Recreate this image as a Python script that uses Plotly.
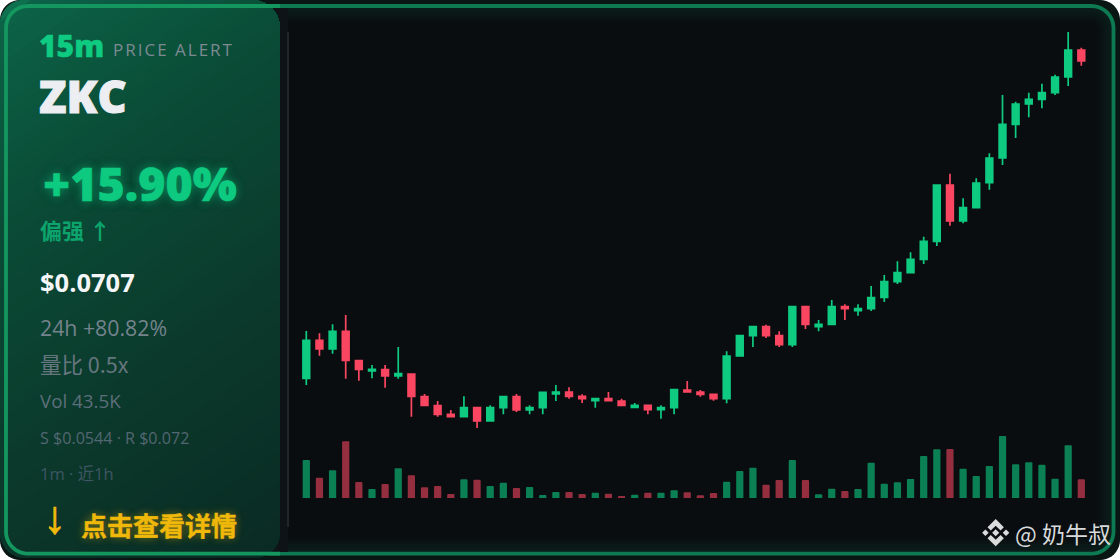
import math
import plotly.graph_objects as go

W, H = 1120, 560

# ---- data -----------------------------------------------------------------
candle_index = list(range(60))
opens = [0.03897,0.04277,0.0419,0.04367,0.04073,0.0397,0.03983,0.0392,0.0394,0.03713,0.03623,0.03537,0.03513,0.03603,0.0347,0.03603,0.03713,0.03580,0.03603,0.0374,0.0376,0.03717,0.03673,0.03693,0.0367,0.03607,0.03627,0.03583,0.03603,0.0378,0.0376,0.03737,0.03693,0.0412,0.04323,0.04413,0.04323,0.04233,0.04613,0.04413,0.04437,0.04613,0.04573,0.04593,0.04707,0.04863,0.04953,0.05087,0.05267,0.0583,0.0547,0.05603,0.05853,0.061,0.06437,0.0664,0.06687,0.06753,0.0691,0.0718]
closes = [0.04277,0.0419,0.04367,0.04077,0.03987,0.03987,0.0392,0.03943,0.03717,0.03627,0.03537,0.03513,0.03603,0.0347,0.03603,0.03713,0.0358,0.03603,0.03757,0.0376,0.03715,0.03693,0.03693,0.03673,0.03627,0.03627,0.03583,0.03603,0.03783,0.0376,0.03737,0.03693,0.0412,0.04323,0.04413,0.04323,0.04233,0.04613,0.04437,0.04437,0.04613,0.04593,0.04593,0.04703,0.04863,0.04953,0.05087,0.05267,0.0583,0.0547,0.05603,0.0585,0.061,0.06437,0.0664,0.06687,0.06753,0.0691,0.0718,0.0707]
highs = [0.0437,0.04347,0.04437,0.0453,0.04077,0.0403,0.0403,0.0421,0.0394,0.0374,0.0367,0.0358,0.03717,0.03603,0.03627,0.03717,0.0374,0.03627,0.0376,0.0383,0.03807,0.03737,0.03693,0.0376,0.03693,0.0365,0.03627,0.03627,0.03783,0.0387,0.0378,0.03737,0.04167,0.04323,0.04413,0.04433,0.04367,0.04613,0.04613,0.0448,0.0468,0.04637,0.04637,0.0482,0.0493,0.05067,0.05157,0.05313,0.0583,0.05943,0.05697,0.05897,0.06147,0.0673,0.06663,0.06753,0.06843,0.06933,0.0736,0.07203]
lows = [0.0383,0.04123,0.04143,0.03893,0.03873,0.03897,0.03803,0.03893,0.03513,0.03627,0.03513,0.03513,0.03513,0.034,0.0347,0.03537,0.0356,0.03537,0.03537,0.0367,0.03693,0.0365,0.03603,0.03673,0.03627,0.03603,0.03537,0.03493,0.03537,0.0376,0.03713,0.03673,0.03647,0.0412,0.0421,0.043,0.0421,0.0421,0.0439,0.04367,0.04437,0.0448,0.04523,0.0457,0.0466,0.0484,0.04953,0.0504,0.0522,0.05423,0.05447,0.05603,0.05783,0.0603,0.063,0.06507,0.06597,0.0673,0.0682,0.07023]
volumes_k = [88.5,47.3,64.5,132,37.3,21,32.6,69.2,52.9,24.9,28,9.3,43.6,42.6,28,35.6,23.3,25.6,7,14,14,9.3,12.3,10,4.7,7.7,12.3,12.3,17.9,13.3,6.3,11.7,38,62.9,70.6,31,41.9,88.5,41.9,8.6,21.7,16.3,21,82.2,33.3,36.6,44.3,97.9,113.5,114.2,68.3,51.3,74.6,144.5,78.5,83.2,77.6,45,122.8,43.5]

title_tf = "15m"
title_tag = "PRICE ALERT"
title_sym = "ZKC"
change_text = "+15.90%"
bias_text = "偏强 ↑"
price_text = "$0.0707"
day_text = "24h +80.82%"
ratio_text = "量比 0.5x"
vol_text = "Vol 43.5K"
levels_text = "S $0.0544 · R $0.072"
window_text = "1m · 近1h"
cta_arrow = "↓"
cta_text = "点击查看详情"
watermark_text = "@ 奶牛叔"

UP, DOWN = "#0ecb81", "#fb4661"
UP_VOL, DOWN_VOL = "#0c8055", "#952f3f"
LATIN = "'Open Sans', 'Noto Sans CJK SC', sans-serif"
CJK = "'Noto Sans CJK SC', 'Open Sans', sans-serif"

# ---- pixel helpers for the decoration --------------------------------------
def fx(x): return x / W
def fy(y): return 1 - y / H

def arc(cx, cy, r, a0, a1, n=10):
    return [(cx + r * math.cos(math.radians(a0 + (a1 - a0) * i / n)),
             cy + r * math.sin(math.radians(a0 + (a1 - a0) * i / n))) for i in range(n + 1)]

def rrect(x0, y0, x1, y1, r):
    tl, tr, br, bl = r if isinstance(r, tuple) else (r, r, r, r)
    return (arc(x0 + tl, y0 + tl, tl, 180, 270) + arc(x1 - tr, y0 + tr, tr, 270, 360) +
            arc(x1 - br, y1 - br, br, 0, 90) + arc(x0 + bl, y1 - bl, bl, 90, 180))

def clip(poly, nx, ny, d):
    out = []
    for i, p in enumerate(poly):
        q = poly[(i + 1) % len(poly)]
        dp, dq = nx * p[0] + ny * p[1] - d, nx * q[0] + ny * q[1] - d
        if dp >= 0:
            out.append(p)
        if dp * dq < 0:
            s = dp / (dp - dq)
            out.append((p[0] + s * (q[0] - p[0]), p[1] + s * (q[1] - p[1])))
    return out

def path(pts, close=True):
    s = "M" + " L".join(f"{fx(x):.5f},{fy(y):.5f}" for x, y in pts)
    return s + (" Z" if close else "")

def poly_shape(pts, fill=None, line=None, width=0, close=True, layer="below"):
    d = dict(type="path", xref="paper", yref="paper", path=path(pts, close), layer=layer)
    d["fillcolor"] = fill if fill else "rgba(0,0,0,0)"
    d["line"] = dict(color=line, width=width) if line else dict(width=0)
    return d

def hex_rgb(h): return tuple(int(h[i:i + 2], 16) for i in (1, 3, 5))
def mix(stops, t):
    for (t0, c0), (t1, c1) in zip(stops, stops[1:]):
        if t <= t1:
            s = (t - t0) / (t1 - t0)
            a, b = hex_rgb(c0), hex_rgb(c1)
            return "rgb(%d,%d,%d)" % tuple(round(a[i] + (b[i] - a[i]) * s) for i in range(3))
    return stops[-1][1]

shapes = []
# card with an inset green tint
shapes.append(poly_shape(rrect(0, 0, W, H, 20), fill="#0a1614"))
for i in range(0, 9):
    inset = 6 + i * 2
    shapes.append(poly_shape(rrect(inset, inset, W - inset, H - inset, max(22 - i * 2 + 2, 6)),
                             fill=mix([(0, "#0a1f1b"), (0.5, "#0a1716"), (1, "#0a0d10")], i / 8)))
# outer border
shapes.append(poly_shape(rrect(6, 6, 1113.5, 553.7, 22), line="#0e7a52", width=3.8))
# soft edge beside the panel
shapes.append(poly_shape([(270, 8), (288, 8), (288, 552), (270, 552)], fill="#0d1316"))
# separator
shapes.append(dict(type="line", xref="paper", yref="paper", x0=fx(288), x1=fx(288), y0=fy(32), y1=fy(527),
                   line=dict(color="#22262c", width=2), layer="below"))
# panel gradient, painted in overlapping opaque bands
panel = rrect(0, 0, 280, 558, (24, 28, 26, 26))
stops = [(0, "#0f7d55"), (0.03, "#0c6146"), (0.3, "#0a4b36"), (0.62, "#0b3a2c"), (1, "#0a2a23")]
nx, ny = 0.574, 0.819
span = nx * 280 + ny * 558
bands = 70
for k in range(bands):
    t = k / bands
    pts = clip(panel, nx, ny, t * span)
    if len(pts) > 2:
        shapes.append(poly_shape(pts, fill=mix(stops, t)))
# bright border over the panel
shapes.append(poly_shape([(280, 6)] + arc(28, 28, 22, 270, 180) + arc(28, 531.7, 22, 180, 90) + [(280, 553.7)],
                          line="#14965f", width=3.8, close=False))
# exchange mark of the watermark
lx, ly, lr = 995.7, 532.7, 13.6
def logo(pts): return [(lx + a * lr, ly + b * lr) for a, b in pts]
top = [(0, -1), (0.6, -0.4), (0.36, -0.16), (0, -0.52), (-0.36, -0.16), (-0.6, -0.4)]
bot = [(a, -b) for a, b in top]
def diamond(cx, r): return [(cx, -r), (cx + r, 0), (cx, r), (cx - r, 0)]
for p in (top, bot, diamond(0, 0.26), diamond(-0.76, 0.24), diamond(0.76, 0.24)):
    shapes.append(poly_shape(logo(p), fill="#d9dcdb"))

# ---- text -------------------------------------------------------------------
def note(text, x, y, size, color, family=LATIN, weight=400, shadow=None):
    font = dict(family=family, size=size, color=color, weight=weight)
    if shadow:
        font["shadow"] = shadow
    return dict(text=text, x=fx(x), y=fy(y), xref="paper", yref="paper", xanchor="left", yanchor="middle",
                showarrow=False, align="left", font=font, borderpad=0, borderwidth=0)

annotations = [
    note(title_tf, 39, 45, 30, UP, weight=800),
    note(title_tag, 113, 49.5, 17, "#7d8a92"),
    note(title_sym, 39, 95, 45, "#eceef2", weight=800),
    note(change_text, 43, 183, 46.5, UP, weight=800, shadow="0 0 10px rgba(14,203,129,0.5)"),
    note(bias_text, 40, 229, 22, "#0da36c", family=CJK, weight=700),
    note(price_text, 40, 282, 25.5, "#f4f6f8", weight=700),
    note(day_text, 40, 327.5, 21.3, "#74838c"),
    note(ratio_text, 40, 363.5, 21.5, "#66767f", family=CJK),
    note(vol_text, 40, 400.5, 18.8, "#5c6e7a"),
    note(levels_text, 40, 438, 16.1, "#536672"),
    note(window_text, 40, 473, 16.5, "#3e5562"),
    note(cta_arrow, 42.5, 517, 46, "#f0b90b", family="'Liberation Sans'"),
    note(cta_text, 81, 524, 26, "#f0b90b", family=CJK, weight=700, shadow="0 0 8px rgba(240,185,11,0.4)"),
    note(watermark_text, 1015, 533, 23, "#d8dadb", family=CJK),
]

# ---- figure -----------------------------------------------------------------
fig = go.Figure()
fig.add_trace(go.Bar(
    x=candle_index, y=volumes_k, width=0.55, yaxis="y2",
    marker=dict(color=[UP_VOL if c >= o else DOWN_VOL for o, c in zip(opens, closes)], line_width=0),
    hoverinfo="skip", showlegend=False))
fig.add_trace(go.Candlestick(
    x=candle_index, open=opens, high=highs, low=lows, close=closes,
    increasing=dict(line=dict(color=UP, width=1.7), fillcolor=UP),
    decreasing=dict(line=dict(color=DOWN, width=1.7), fillcolor=DOWN),
    whiskerwidth=0, hoverinfo="skip", showlegend=False))

step, first = 13.136, 306.3
fig.update_layout(
    width=W, height=H, margin=dict(l=0, r=0, t=0, b=0, pad=0),
    paper_bgcolor="#ffffff", plot_bgcolor="rgba(0,0,0,0)",
    boxgap=0.27, bargap=0.45, barcornerradius=1,
    xaxis=dict(visible=False, range=[-first / step, (W - first) / step], rangeslider=dict(visible=False), fixedrange=True),
    yaxis=dict(visible=False, range=[0.0208, 0.0768], domain=[0, 1], fixedrange=True),
    yaxis2=dict(visible=False, range=[0, 498 * 2.33], domain=[62 / 560, 1], anchor="x", fixedrange=True),
    shapes=shapes, annotations=annotations, showlegend=False, hovermode=False)

post = """
document.body.style.margin='0';
document.body.style.background='#ffffff';
document.querySelectorAll('.annotation-text').forEach(function(t){
  var s=t.textContent;
  if(s==='PRICE ALERT'){t.style.letterSpacing='2px';}
  var strokes={'ZKC':'1px','+15.90%':'0.5px','15m':'0.4px','点击查看详情':'0.4px','↓':'0.8px'};
  if(strokes[s]){t.style.stroke=t.style.fill;t.style.strokeWidth=strokes[s];}
});
"""
fig.write_html("out.html", config=dict(displayModeBar=False, responsive=False), post_script=post)
